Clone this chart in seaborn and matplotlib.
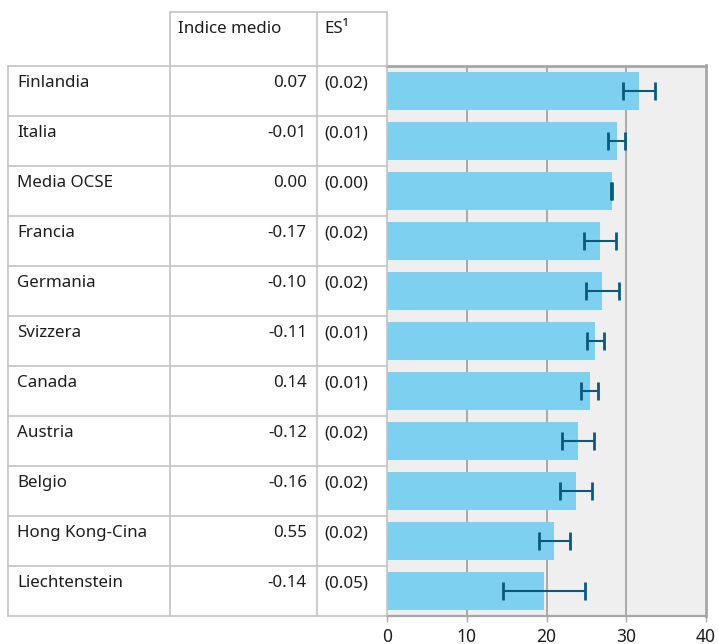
import matplotlib
matplotlib.use("Agg")
import matplotlib.pyplot as plt
from matplotlib.lines import Line2D
import seaborn as sns
import pandas as pd

# --- data ---------------------------------------------------------------
countries = ["Finlandia", "Italia", "Media OCSE", "Francia", "Germania",
             "Svizzera", "Canada", "Austria", "Belgio", "Hong Kong-Cina",
             "Liechtenstein"]
index_mean = [0.07, -0.01, 0.00, -0.17, -0.10, -0.11, 0.14, -0.12, -0.16, 0.55, -0.14]
index_se = [0.02, 0.01, 0.00, 0.02, 0.02, 0.01, 0.01, 0.02, 0.02, 0.02, 0.05]
bar_values = [31.6, 28.8, 28.2, 26.7, 27.0, 26.1, 25.4, 23.9, 23.7, 21.0, 19.7]
bar_errors = [2.05, 1.05, 0.05, 2.0, 2.05, 1.05, 1.05, 2.0, 2.05, 2.0, 5.15]
x_ticks = [0, 10, 20, 30, 40]
bold_rows = ["Svizzera"]
header_labels = ["Indice medio", "ES\u00b9"]

df = pd.DataFrame({"paese": countries, "valore": bar_values, "errore": bar_errors})

# --- style --------------------------------------------------------------
sns.set_theme(style="white")
plt.rcParams["font.family"] = ["Noto Sans", "DejaVu Sans"]
TXT = "#1e1e1e"
GRID = "#c4c4c4"
FS = 12.2

W, H = 718, 644
fig = plt.figure(figsize=(W / 100, H / 100), dpi=100)

# plot area in pixel coordinates
px_left, px_right, px_top, px_bottom = 387, 706, 65.5, 616
ax = fig.add_axes([px_left / W, 1 - px_bottom / H,
                   (px_right - px_left) / W, (px_bottom - px_top) / H])
ax.set_facecolor("#efefef")

sns.barplot(data=df, x="valore", y="paese", orient="h", color="#7dd0f0",
            saturation=1, width=0.76, linewidth=0, ax=ax, zorder=2)
ax.errorbar(df["valore"], range(len(df)), xerr=df["errore"], fmt="none",
            ecolor="#0b5a7e", elinewidth=1.5, capsize=6.5, capthick=2.0, zorder=3)

ax.set_xlim(0, 40)
ax.set_ylim(len(df) - 0.5, -0.5)
ax.set_xticks(x_ticks)
ax.set_xticklabels([str(t) for t in x_ticks], fontsize=FS + 0.3, color=TXT)
ax.set_yticks([])
ax.set_xlabel("")
ax.set_ylabel("")
for t in x_ticks[1:-1]:
    ax.axvline(t, color="#a9a9a9", lw=1.4, zorder=1)
ax.tick_params(axis="x", bottom=True, length=4, width=1, color="#a9a9a9", pad=5)
for side in ["top", "right"]:
    ax.spines[side].set_color("#a6a6a6")
    ax.spines[side].set_linewidth(2)
ax.spines["bottom"].set_color("#a6a6a6")
ax.spines["bottom"].set_linewidth(1.6)
ax.spines["left"].set_color(GRID)
ax.spines["left"].set_linewidth(1.2)

# --- table on the left, drawn in pixel coordinates ----------------------
tab = fig.add_axes([0, 0, 1, 1], facecolor="none")
tab.set_xlim(0, W)
tab.set_ylim(H, 0)
tab.axis("off")

col_x = [8, 170, 317, 387]
head_top = 12
row_h = (px_bottom - px_top) / len(countries)


def hline(y, x0, x1):
    tab.add_line(Line2D([x0, x1], [y, y], color=GRID, lw=1.2))


def vline(x, y0, y1):
    tab.add_line(Line2D([x, x], [y0, y1], color=GRID, lw=1.2))


hline(head_top, col_x[1], col_x[3])
vline(col_x[0], px_top, px_bottom)
vline(col_x[1], head_top, px_bottom)
vline(col_x[2], head_top, px_bottom)
vline(col_x[3], head_top, px_top)
for i in range(len(countries) + 1):
    hline(px_top + i * row_h, col_x[0], col_x[3])

tab.text(col_x[1] + 8, head_top + 21, header_labels[0], fontsize=FS, color=TXT,
         ha="left", va="baseline")
tab.text(col_x[2] + 7, head_top + 21, header_labels[1], fontsize=FS, color=TXT,
         ha="left", va="baseline")

for i, (name, m, se) in enumerate(zip(countries, index_mean, index_se)):
    yb = px_top + i * row_h + 21.5
    weight = "bold" if name in bold_rows else "normal"
    tab.text(col_x[0] + 9, yb, name, fontsize=FS, color=TXT, ha="left",
             va="baseline", fontweight=weight)
    tab.text(col_x[2] - 10, yb, f"{m:.2f}", fontsize=FS, color=TXT, ha="right",
             va="baseline")
    tab.text(col_x[2] + 7, yb, f"({se:.2f})", fontsize=FS, color=TXT, ha="left",
             va="baseline")

fig.savefig("out.png", dpi=100)
